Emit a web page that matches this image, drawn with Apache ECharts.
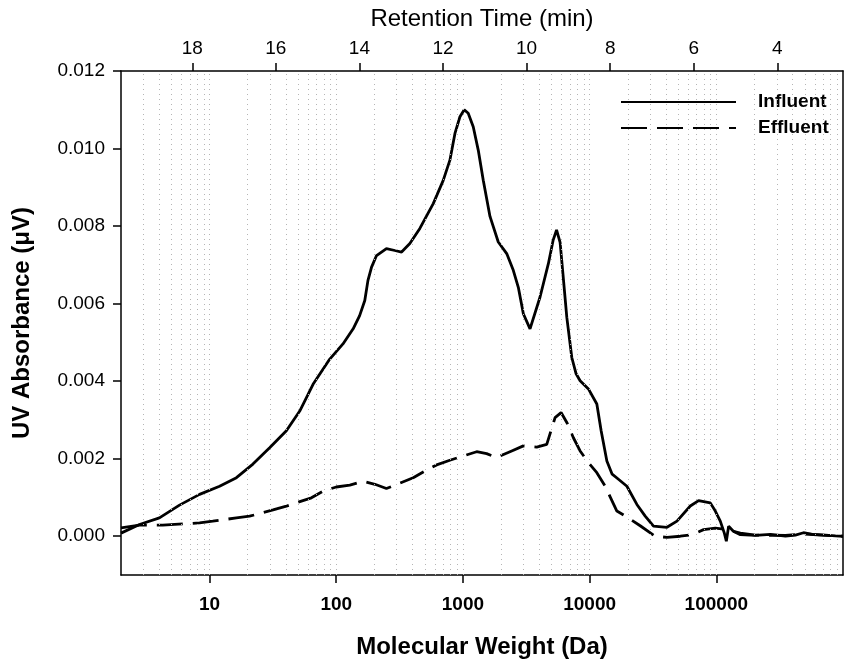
<!DOCTYPE html>
<html>
<head>
<meta charset="utf-8">
<script src="https://cdn.jsdelivr.net/npm/echarts@6/dist/echarts.min.js"></script>
<style>
  html, body { margin: 0; padding: 0; background: #fff; }
  #chart { width: 851px; height: 666px; }
</style>
</head>
<body>
<div id="chart"></div>
<script>
// molecular weight (Da) / absorbance pairs
const influentMW = [2, 2.8, 4.02, 5.79, 8.34, 12, 16.3, 22, 29.8, 40.4, 51.5, 65.6, 88.9, 113, 136, 153, 168, 178, 190, 208,
  249, 290, 328, 381, 457, 583, 699, 789, 865, 947, 1024, 1101, 1206, 1321, 1447, 1635, 1901, 2216, 2498, 2736,
  2998, 3385, 4062, 4724, 5147, 5484, 5847, 6173, 6603, 7233, 7822, 8412, 9784, 11400, 12330, 13680, 15060, 16890, 19690, 23610,
  27460, 31940, 40770, 48910, 62300, 72460, 89660, 98200, 107500, 115700, 120000, 125100, 136300, 154800, 203400, 267300,
  351300, 421300, 487300, 574000, 727300, 872300, 1000000];
const influentUV = [0.00008, 0.000303, 0.000473, 0.000802, 0.00108, 0.00129, 0.00151, 0.00186, 0.00228, 0.00272, 0.00323, 0.00392, 0.00457, 0.00496, 0.00535, 0.00569, 0.00608, 0.0066, 0.00694, 0.00724,
  0.00742, 0.00737, 0.00733, 0.00755, 0.00794, 0.00858, 0.00918, 0.0097, 0.01039, 0.01082, 0.011, 0.01091, 0.01056, 0.00996, 0.00918, 0.00825, 0.00759, 0.00729, 0.00686, 0.00642,
  0.00574, 0.00535, 0.00617, 0.00703, 0.00763, 0.0079, 0.00758, 0.00673, 0.00565, 0.00461, 0.00419, 0.00401, 0.0038, 0.00341, 0.00272, 0.00194, 0.0016, 0.00147, 0.00129, 0.00082,
  0.00052, 0.00026, 0.00023, 0.00039, 0.00078, 0.00092, 0.00086, 0.00065, 0.00039, 0.00008, -0.00013, 0.00026, 0.00013, 0.00004, 0.00002, 0.00005,
  0.0, 0.00003, 0.00009, 0.00005, 0.00003, 0.00001, 0.0];

const effluentMW = [2, 2.8, 4.27, 8.34, 10.6, 16.3, 20.7, 31.7, 40.4, 63.7, 78.6, 100, 128, 163, 202, 249, 308, 405, 501, 620,
  789, 1006, 1283, 1539, 1847, 2427, 2998, 3824, 4588, 5338, 5953, 6640, 7446, 8412, 9729, 11400, 13260, 16410, 20270, 25070,
  32950, 40770, 51930, 64270, 79350, 98200, 121500, 154800, 203400, 351300, 487300, 727300, 1000000];
const effluentUV = [0.000215, 0.000285, 0.000285, 0.000344, 0.000388, 0.000473, 0.000517, 0.000678, 0.000776, 0.000991, 0.00116, 0.00127, 0.00132, 0.00142, 0.00134, 0.00123, 0.00135, 0.00151, 0.00168, 0.00184,
  0.00196, 0.00207, 0.00218, 0.00213, 0.00203, 0.0022, 0.00233, 0.0023, 0.00237, 0.00306, 0.00319, 0.00292, 0.00254, 0.0022, 0.00191, 0.00164, 0.00129, 0.00065, 0.00047, 0.00027,
  0.0, -0.00003, 0.0, 0.00004, 0.00017, 0.00021, 0.00017, 0.00008, 0.00003, 0.00002, 0.00006, 0.00002, 0.0];

const mwTicks = [10, 100, 1000, 10000, 100000];
const rtTicks = [4, 6, 8, 10, 12, 14, 16, 18];
const uvTicks = [0, 0.002, 0.004, 0.006, 0.008, 0.01, 0.012];

const font = '"Liberation Sans", Arial, sans-serif';

function pairs(xs, ys) {
  return xs.map((x, i) => [x, ys[i]]);
}

// dotted vertical lines at every 1..9 x 10^n inside the plot
let gridLines = [];
for (let n = 0; n < 6; n++) {
  for (let k = 1; k < 10; k++) {
    let v = k * Math.pow(10, n);
    if (v > 2 && v < 1000000) gridLines.push({ xAxis: v });
  }
}

const myChart = echarts.init(document.getElementById('chart'));

const options = {
  animation: false,
  textStyle: { fontFamily: font },
  grid: { left: 121, right: 8, top: 71, bottom: 91 },
  legend: {
    orient: 'vertical',
    left: 615,
    top: 87,
    itemWidth: 115,
    itemHeight: 20,
    itemGap: 6,
    data: ['Influent', 'Effluent'],
    itemStyle: { opacity: 0 },
    textStyle: { fontFamily: font, fontSize: 19, lineHeight: 20, fontWeight: 'bold', color: '#000', padding: [0, 0, 0, 17] }
  },
  xAxis: [
    {
      type: 'log',
      min: 2,
      max: 1000000,
      position: 'bottom',
      name: 'Molecular Weight (Da)',
      nameLocation: 'middle',
      nameGap: 60,
      nameTextStyle: { fontFamily: font, fontSize: 24, fontWeight: 'bold', color: '#000' },
      axisLine: { onZero: false, lineStyle: { color: '#000', width: 1.5 } },
      axisTick: { inside: false, length: 8, customValues: mwTicks, lineStyle: { color: '#000', width: 1.5 } },
      axisLabel: {
        customValues: mwTicks,
        margin: 20,
        fontSize: 19,
        fontWeight: 'bold',
        color: '#000',
        fontFamily: font,
        formatter: function (v) { return String(Math.round(v)); }
      },
      splitLine: { show: false },
      minorTick: { show: false }
    },
    {
      type: 'value',
      min: 2.428,
      max: 19.706,
      inverse: true,
      position: 'top',
      name: 'Retention Time (min)',
      nameLocation: 'middle',
      nameGap: 40,
      nameTextStyle: { fontFamily: font, fontSize: 24, color: '#000' },
      axisLine: { show: true, onZero: false, lineStyle: { color: '#000', width: 1.5 } },
      axisTick: { show: true, length: 8, customValues: rtTicks, lineStyle: { color: '#000', width: 1.5 } },
      axisLabel: { customValues: rtTicks, margin: 13, fontSize: 19, color: '#000', fontFamily: font },
      splitLine: { show: false }
    }
  ],
  yAxis: [
    {
      type: 'value',
      min: -0.001,
      max: 0.012,
      position: 'left',
      name: 'UV Absorbance (μV)',
      nameLocation: 'middle',
      nameGap: 87,
      nameTextStyle: { fontFamily: font, fontSize: 24, fontWeight: 'bold', color: '#000' },
      axisLine: { show: true, onZero: false, lineStyle: { color: '#000', width: 1.5 } },
      axisTick: { show: true, length: 8, customValues: uvTicks, lineStyle: { color: '#000', width: 1.5 } },
      axisLabel: {
        customValues: uvTicks,
        margin: 16,
        fontSize: 19,
        color: '#000',
        fontFamily: font,
        formatter: function (v) { return v.toFixed(3); }
      },
      splitLine: { show: false }
    },
    {
      type: 'value',
      min: -0.001,
      max: 0.012,
      position: 'right',
      axisLine: { show: true, onZero: false, lineStyle: { color: '#000', width: 1.5 } },
      axisTick: { show: false },
      axisLabel: { show: false },
      splitLine: { show: false }
    }
  ],
  series: [
    {
      name: 'grid',
      type: 'line',
      data: [],
      z: 1,
      markLine: {
        silent: true,
        animation: false,
        symbol: ['none', 'none'],
        label: { show: false },
        lineStyle: { color: '#b5b5b5', width: 1, type: [1, 4] },
        data: gridLines
      }
    },
    {
      name: 'Influent',
      type: 'line',
      data: pairs(influentMW, influentUV),
      symbol: 'none',
      showSymbol: false,
      z: 3,
      lineStyle: { color: '#000', width: 2.8 },
      itemStyle: { color: '#000' }
    },
    {
      name: 'Effluent',
      type: 'line',
      data: pairs(effluentMW, effluentUV),
      symbol: 'none',
      showSymbol: false,
      z: 3,
      lineStyle: { color: '#000', width: 2.8, type: [26, 10] },
      itemStyle: { color: '#000' }
    }
  ]
};

myChart.setOption(options);
</script>
</body>
</html>
